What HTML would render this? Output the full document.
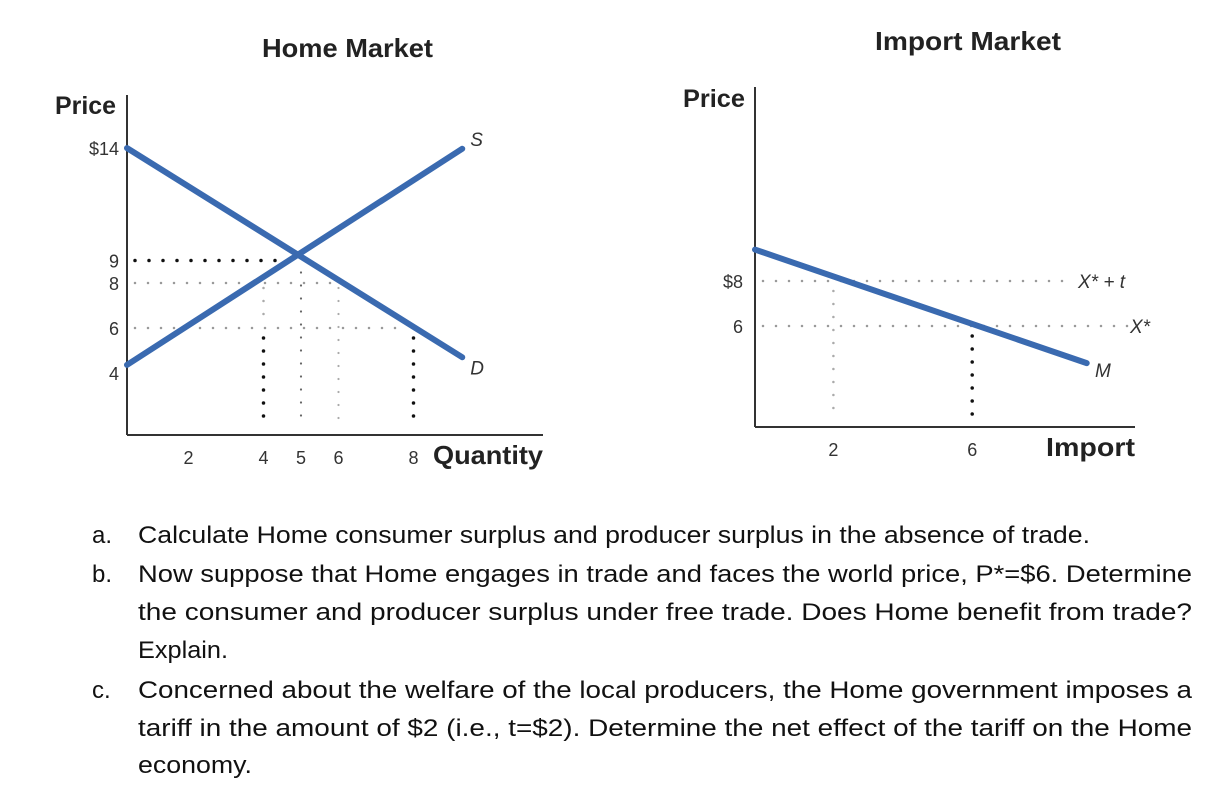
<!DOCTYPE html>
<html><head><meta charset="utf-8"><style>
html,body{margin:0;padding:0;background:#fff;}
svg{display:block;}
.ttl{font-family:"Liberation Sans Narrow","Liberation Sans",sans-serif;font-weight:bold;fill:#222;}
.tk{font-family:"Liberation Sans Narrow","Liberation Sans",sans-serif;fill:#333;font-size:18px;}
.it{font-family:"Liberation Sans",sans-serif;font-style:italic;fill:#333;font-size:19px;}
.q{font-family:"Liberation Sans",sans-serif;fill:#111;font-size:24px;}
</style></head><body>
<svg id="svg" width="1232" height="810" xmlns="http://www.w3.org/2000/svg">
<text class="ttl" x="262" y="57" font-size="26" textLength="171" lengthAdjust="spacingAndGlyphs">Home Market</text>
<text class="ttl" x="875" y="50" font-size="26" textLength="186" lengthAdjust="spacingAndGlyphs">Import Market</text>
<text class="ttl" x="55" y="114" font-size="25" textLength="61" lengthAdjust="spacingAndGlyphs">Price</text>
<text class="ttl" x="683" y="107" font-size="25" textLength="62" lengthAdjust="spacingAndGlyphs">Price</text>
<g id="home"></g>
<g id="imp"></g>
<g>
<text class="q" x="92" y="543">a.</text>
<text class="q" x="138" y="543" textLength="952" lengthAdjust="spacingAndGlyphs">Calculate Home consumer surplus and producer surplus in the absence of trade.</text>
<text class="q" x="92" y="582">b.</text>
<text class="q" x="138" y="582" textLength="1054" lengthAdjust="spacingAndGlyphs">Now suppose that Home engages in trade and faces the world price, P*=$6. Determine</text>
<text class="q" x="138" y="620" textLength="1054" lengthAdjust="spacingAndGlyphs">the consumer and producer surplus under free trade. Does Home benefit from trade?</text>
<text class="q" x="138" y="658" textLength="90" lengthAdjust="spacingAndGlyphs">Explain.</text>
<text class="q" x="92" y="698">c.</text>
<text class="q" x="138" y="698" textLength="1054" lengthAdjust="spacingAndGlyphs">Concerned about the welfare of the local producers, the Home government imposes a</text>
<text class="q" x="138" y="736" textLength="1054" lengthAdjust="spacingAndGlyphs">tariff in the amount of $2 (i.e., t=$2). Determine the net effect of the tariff on the Home</text>
<text class="q" x="138" y="773" textLength="114" lengthAdjust="spacingAndGlyphs">economy.</text>
</g>
</svg>
<script>
// Home market data
const homePriceTicks = [14, 9, 8, 6, 4];
const homePriceLabels = ["$14", "9", "8", "6", "4"];
const homeQtyTicks = [2, 4, 5, 6, 8];
const demandIntercept = 14, demandSlope = -1, demandEndQ = 9.3;
const supplyIntercept = 4, supplySlope = 1, supplyEndQ = 9.3;
// Import market data
const importPriceTicks = [8, 6];
const importPriceLabels = ["$8", "6"];
const importQtyTicks = [2, 6];
const importIntercept = 9, importSlope = -0.5, importEndQ = 9.3;
const worldPrice = 6, tariff = 2;

const NS = "http://www.w3.org/2000/svg";
const BLUE = "#3a6ab0";
function mk(parent, tag, attrs) {
  const e = document.createElementNS(NS, tag);
  for (const k in attrs) e.setAttribute(k, attrs[k]);
  parent.appendChild(e);
  return e;
}
function txt(parent, x, y, s, cls, anchor) {
  const t = mk(parent, "text", {x: x, y: y, class: cls, "text-anchor": anchor || "start"});
  t.textContent = s;
  return t;
}
function dots(parent, x1, y1, x2, y2, color, r, gap) {
  return mk(parent, "line", {x1: x1, y1: y1, x2: x2, y2: y2, stroke: color, "stroke-width": r, "stroke-linecap": "round", "stroke-dasharray": "0 " + gap});
}

// ---- Home ----
const H = document.getElementById("home");
const hx = q => 301 + (q - 5) * 37.5;
const hy = p => 463 - 22.5 * p;
const hAxisX = 127, hAxisY = 435;
const hq0 = (hAxisX - 301) / 37.5 + 5;
let a = mk(H, "line", {x1: hAxisX, y1: 95, x2: hAxisX, y2: hAxisY, stroke: "#333", "stroke-width": 2});


a = mk(H, "line", {x1: hAxisX, y1: hAxisY, x2: 543, y2: hAxisY, stroke: "#333", "stroke-width": 2});


homePriceTicks.forEach((p, i) => {
  const t = txt(H, 119, hy(p) + 7, homePriceLabels[i], "tk", "end");
  
  
});
homeQtyTicks.forEach(q => {
  const t = txt(H, hx(q), 464, String(q), "tk", "middle");
  
  
});
let ql = txt(H, 433, 464, "Quantity", "ttl");
ql.setAttribute("font-size", "26");
ql.setAttribute("textLength", "110");
ql.setAttribute("lengthAdjust", "spacingAndGlyphs");


// equilibrium
const eqQ = (demandIntercept - supplyIntercept) / (supplySlope - demandSlope);
const eqP = supplyIntercept + supplySlope * eqQ;
const qs = p => (p - supplyIntercept) / supplySlope;
const qd = p => (p - demandIntercept) / demandSlope;
const pTar = worldPrice + tariff;
let g;
g = dots(H, hAxisX + 8, hy(eqP), hx(eqQ), hy(eqP), "#111", 3.5, 14);


g = dots(H, hAxisX + 8, hy(pTar), hx(qd(pTar)), hy(pTar), "#999", 2.5, 13);


g = dots(H, hAxisX + 8, hy(worldPrice), hx(qd(worldPrice)) - 15, hy(worldPrice), "#999", 2.5, 13);


g = dots(H, hx(qs(pTar)), hy(pTar) + 5, hx(qs(pTar)), hy(worldPrice) - 5, "#aaa", 2.5, 13);


g = dots(H, hx(qs(pTar)), hy(worldPrice) + 10, hx(qs(pTar)), hAxisY - 8, "#111", 3.5, 13);


g = dots(H, hx(eqQ), hy(eqP) + 12, hx(eqQ), hAxisY - 8, "#666", 2.2, 13);


g = dots(H, hx(qd(pTar)), hy(pTar) + 5, hx(qd(pTar)), hAxisY - 8, "#aaa", 2.2, 13);


g = dots(H, hx(qd(worldPrice)), hy(worldPrice) + 10, hx(qd(worldPrice)), hAxisY - 8, "#111", 3.5, 13);


// curves
let c = mk(H, "line", {x1: hAxisX, y1: hy(demandIntercept + demandSlope * hq0) - 8, x2: hx(demandEndQ), y2: hy(demandIntercept + demandSlope * demandEndQ), stroke: BLUE, "stroke-width": 6, "stroke-linecap": "round"});


c = mk(H, "line", {x1: hAxisX, y1: hy(supplyIntercept + supplySlope * hq0), x2: hx(supplyEndQ), y2: hy(supplyIntercept + supplySlope * supplyEndQ) - 15, stroke: BLUE, "stroke-width": 6, "stroke-linecap": "round"});


let l = txt(H, hx(supplyEndQ) + 8, hy(supplyIntercept + supplySlope * supplyEndQ) - 18, "S", "it");


l = txt(H, hx(demandEndQ) + 8, hy(demandIntercept + demandSlope * demandEndQ) + 17, "D", "it");



// ---- Import ----
const I = document.getElementById("imp");
const ix = q => 764 + q * 34.7;
const iy = p => 461 - 22.5 * p;
const iAxisX = 755, iAxisY = 427;
a = mk(I, "line", {x1: iAxisX, y1: 87, x2: iAxisX, y2: iAxisY, stroke: "#333", "stroke-width": 2});


a = mk(I, "line", {x1: iAxisX, y1: iAxisY, x2: 1135, y2: iAxisY, stroke: "#333", "stroke-width": 2});


importPriceTicks.forEach((p, i) => {
  const t = txt(I, 743, iy(p) + 7, importPriceLabels[i], "tk", "end");
  
  
});
importQtyTicks.forEach(q => {
  const t = txt(I, ix(q), 456, String(q), "tk", "middle");
  
  
});
ql = txt(I, 1046, 456, "Import", "ttl");
ql.setAttribute("font-size", "26");
ql.setAttribute("textLength", "89");
ql.setAttribute("lengthAdjust", "spacingAndGlyphs");


const mq = p => (p - importIntercept) / importSlope;
g = dots(I, iAxisX + 8, iy(worldPrice + tariff), 1075, iy(worldPrice + tariff), "#999", 2.5, 13);


g = dots(I, iAxisX + 8, iy(worldPrice), 1128, iy(worldPrice), "#999", 2.5, 13);


g = dots(I, ix(mq(worldPrice + tariff)), iy(worldPrice + tariff) + 10, ix(mq(worldPrice + tariff)), iAxisY - 8, "#aaa", 2.5, 13);


g = dots(I, ix(mq(worldPrice)), iy(worldPrice) + 10, ix(mq(worldPrice)), iAxisY - 8, "#111", 3.5, 13);


c = mk(I, "line", {x1: iAxisX, y1: iy(importIntercept + importSlope * ((iAxisX - 764) / 34.7)) - 6, x2: ix(importEndQ), y2: iy(importIntercept + importSlope * importEndQ), stroke: BLUE, "stroke-width": 6, "stroke-linecap": "round"});


l = txt(I, 1095, 377, "M", "it");


l = txt(I, 1078, iy(worldPrice + tariff) + 7, "X* + t", "it");


l = txt(I, 1130, iy(worldPrice) + 7, "X*", "it");


</script>
</body></html>
